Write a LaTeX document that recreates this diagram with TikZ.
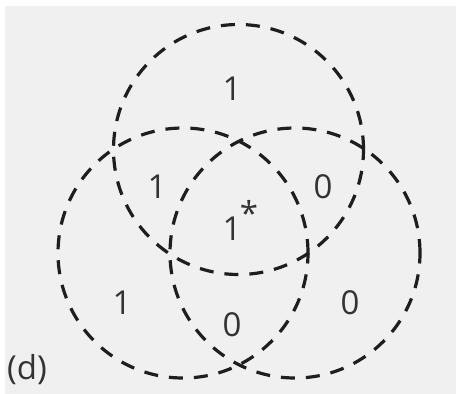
\documentclass[tikz,border=0pt]{standalone}
\usepackage{fontspec}
\setmainfont{Open Sans}
\definecolor{bg}{HTML}{F0F0F0}
\definecolor{ink}{HTML}{1E1E1E}
\definecolor{txt}{HTML}{333333}
\begin{document}
\begin{tikzpicture}[x=1pt,y=-1pt,
  ring/.style={draw=ink,circle,line width=3.2pt,dash pattern=on 14pt off 11pt,minimum size=250pt,inner sep=0pt},
  lbl/.style={text=txt,font=\fontsize{33}{38}\selectfont,inner sep=0pt}]
\useasboundingbox (0,0) rectangle (456,394);
\fill[bg] (5,6) rectangle (456,394);
\node[ring] (top) at (238.5,149.5) {};
\node[ring] (left) at (183,253) {};
\node[ring] (right) at (295,253) {};
\node[lbl] (a) at (232,89) {1};
\node[lbl] (b) at (157,187) {1};
\node[lbl] (c) at (323,187) {0};
\node[lbl,anchor=base] (d) at (232,240) {1\rlap{\kern-1.5pt\raisebox{15pt}{*}}};
\node[lbl] (e) at (122,303) {1};
\node[lbl] (f) at (232,325) {0};
\node[lbl] (g) at (350,303) {0};
\node[lbl] (h) at (27,370) {(d)};
\end{tikzpicture}
\end{document}
